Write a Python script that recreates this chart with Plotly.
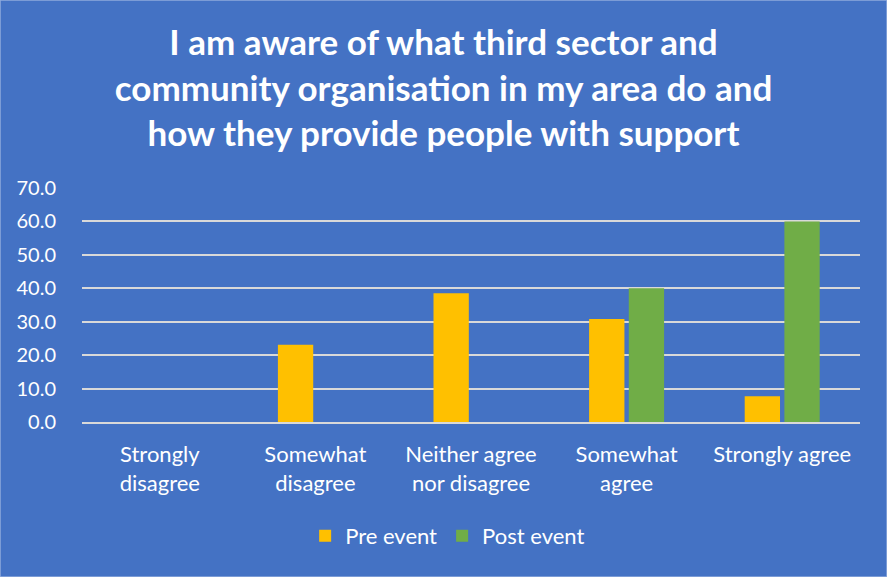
import plotly.graph_objects as go

categories = ["Strongly<br>disagree", "Somewhat<br>disagree", "Neither agree<br>nor disagree", "Somewhat<br>agree", "Strongly agree"]
pre_event = [0, 23.1, 38.5, 30.8, 7.7]
post_event = [0, 0, 0, 40.0, 60.0]
y_ticks = [0, 10, 20, 30, 40, 50, 60, 70]

BG = "#4472C4"
FONT = "Lato"

fig = go.Figure()
fig.add_trace(go.Bar(name="Pre event", x=categories, y=pre_event, marker=dict(color="#FFC000", line=dict(width=0))))
fig.add_trace(go.Bar(name="Post event", x=categories, y=post_event, marker=dict(color="#70AD47", line=dict(width=0))))

fig.update_layout(
    width=887, height=577,
    paper_bgcolor=BG, plot_bgcolor=BG,
    margin=dict(l=82, r=27, t=188, b=155),
    barmode="group", bargap=0.49, bargroupgap=0.11,
    font=dict(family=FONT, color="white", size=22),
    title=dict(
        text="<b>I am aware of what third sector and<br>community organisation in my area do and<br>how they provide people with support</b>",
        x=0.5, xanchor="center", xref="container",
        y=1 - 55/577, yanchor="middle", yref="container",
        font=dict(family=FONT, size=35, color="white"),
    ),
    legend=dict(orientation="h", x=0.47, xanchor="center", y=1 - 536/577, yanchor="middle",
                yref="container", font=dict(size=22, color="white"), bgcolor="rgba(0,0,0,0)",
                itemwidth=30),
    showlegend=True,
    shapes=[dict(type="rect", xref="paper", yref="paper", x0=-82/778, x1=1 + 27/778,
                 y0=-155/234, y1=1 + 188/234, line=dict(color="#8FAADC", width=1.5), layer="below")],
)
fig.update_yaxes(range=[0, 70], tickvals=y_ticks, ticktext=[f"{v:.1f}" for v in y_ticks],
                 showgrid=True, gridcolor="#D9D9D9", gridwidth=1.5, zeroline=False,
                 showline=False, ticks="outside", ticklen=21, tickcolor="rgba(0,0,0,0)",
                 tickfont=dict(size=20, color="white"))
fig.update_xaxes(showline=True, linecolor="#D9D9D9", linewidth=1.5, ticks="outside", ticklen=12,
                 tickcolor="rgba(0,0,0,0)", tickfont=dict(size=22, color="white"))

fig.write_html("out.html")
